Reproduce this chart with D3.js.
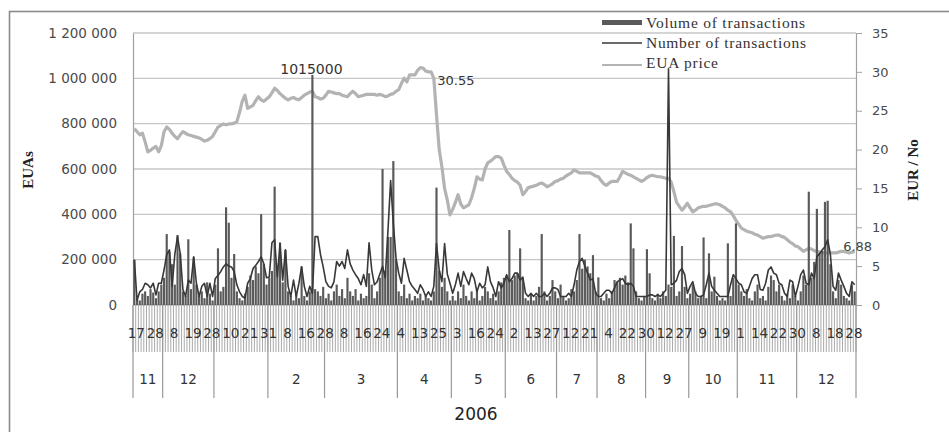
<!DOCTYPE html>
<html><head><meta charset="utf-8">
<script src="https://cdn.jsdelivr.net/npm/d3@7"></script>
<style>body{margin:0;background:#fff}svg{display:block}</style>
</head><body>
<svg id="c" width="949" height="432"></svg>
<script>
// Volume of transactions (thousand EUAs) per trading day
const volume = [
200,30,20,50,60,40,70,55,30,60,
90,120,313,235,180,90,309,228,60,40,
290,70,210,90,40,60,30,100,50,20,
90,250,60,80,431,363,120,225,60,30,
20,50,80,130,110,170,140,401,180,90,
120,150,522,160,276,100,243,60,40,20,
50,30,170,40,20,60,1015,70,60,40,
80,30,50,20,60,90,40,70,30,120,
60,40,70,20,50,30,40,140,90,30,
60,120,600,150,300,300,635,200,60,40,
90,30,50,20,40,30,50,20,40,30,
20,60,518,150,80,120,60,20,40,20,
60,30,90,40,20,60,30,70,20,40,
80,60,30,50,20,60,100,120,130,331,
110,130,140,250,120,30,20,50,20,40,
80,313,60,20,40,110,60,30,90,40,
20,30,70,60,110,313,160,200,170,140,
220,60,122,30,20,50,30,60,110,100,
120,90,130,100,360,250,60,30,20,40,
246,140,30,20,50,30,60,40,90,80,
305,40,60,260,80,30,50,90,60,30,
40,298,30,228,60,125,40,20,30,20,
272,40,120,360,90,60,40,70,30,20,
60,90,30,40,20,80,130,110,60,90,
40,20,50,30,90,40,20,60,130,90,
500,120,190,424,230,240,455,460,180,60,
30,110,90,40,30,20,90,60];
// Number of transactions per day (right axis)
const numberTx = [
5.8,0.6,1.7,2.0,2.8,2.6,2.2,2.8,1.3,2.8,
2.8,4.5,6.5,7.1,2.4,6.5,8.8,6.6,2.0,1.1,
3.2,2.8,6.2,2.8,1.1,2.4,2.8,1.1,2.8,1.1,
3.4,3.8,4.3,4.9,5.3,5.0,4.9,4.3,2.6,1.7,
1.1,0.9,2.8,3.4,4.7,5.1,5.6,6.2,5.3,3.5,
3.6,8.0,8.4,3.6,7.9,3.2,7.1,2.4,1.1,3.2,
1.1,2.8,4.9,2.4,1.1,2.4,1.5,8.8,8.8,6.5,
4.9,3.0,2.4,2.2,3.0,5.6,5.0,5.6,4.7,7.1,
5.3,4.5,3.9,3.4,2.6,3.9,2.4,8.0,4.5,2.6,
3.0,4.0,5.0,3.5,9.5,16.0,10.5,6.0,4.1,2.8,
6.0,4.5,3.0,2.4,2.0,1.5,2.6,2.0,1.1,1.7,
1.1,2.4,7.9,4.5,3.0,7.9,4.0,2.8,1.5,2.6,
4.1,2.4,4.3,3.4,2.6,4.1,3.4,1.7,2.8,2.2,
2.6,4.9,3.0,2.2,1.1,3.0,2.2,2.8,3.9,3.0,
3.4,4.1,4.1,3.2,3.6,1.5,1.1,1.5,1.1,1.5,
1.1,1.1,1.5,1.1,1.5,2.2,2.2,2.0,1.1,1.1,
1.1,1.5,1.1,2.6,4.5,5.6,6.0,5.0,4.1,3.2,
3.4,1.5,1.1,1.1,1.5,1.9,1.9,1.5,2.2,3.0,
3.2,3.4,2.8,2.6,2.8,2.4,1.1,1.1,1.1,1.1,
1.1,1.3,1.3,1.1,1.3,1.1,1.5,1.9,30.4,2.6,
2.8,3.2,4.3,4.7,3.9,1.5,2.4,3.0,1.5,1.1,
1.1,1.3,2.6,4.1,2.4,1.9,1.5,1.1,1.1,1.1,
1.1,2.6,3.9,3.4,2.8,2.6,1.7,1.5,2.4,3.4,
3.9,3.9,2.0,1.9,2.8,4.5,4.9,4.1,3.9,2.8,
2.6,1.5,1.1,3.2,3.0,1.1,2.4,3.9,4.5,2.8,
2.6,4.1,3.4,6.2,6.6,7.1,7.5,8.4,6.5,2.4,
1.9,4.1,3.2,2.4,1.5,1.1,3.0,2.6];
// EUA price (EUR)
const price = [
22.7,22.3,21.9,22.1,21.0,19.7,19.9,20.2,20.4,19.7,
20.5,22.3,22.9,22.6,22.1,21.7,21.4,21.9,22.3,22.1,
21.9,21.8,21.7,21.6,21.5,21.3,21.1,21.2,21.4,21.7,
22.3,22.9,23.1,23.3,23.2,23.3,23.3,23.4,23.6,24.8,
26.2,27.0,25.3,25.5,25.7,26.3,26.8,26.4,26.2,26.5,
26.8,27.3,27.9,27.6,27.2,26.9,26.6,26.4,26.6,26.7,
26.5,26.4,26.7,27.0,27.2,27.4,27.5,26.8,26.7,26.5,
26.6,27.0,27.5,27.4,27.3,27.2,27.2,27.0,26.9,26.8,
27.2,27.5,27.2,26.8,26.9,27.0,27.1,27.1,27.1,27.1,
27.0,27.1,27.0,26.8,26.9,27.1,27.2,27.5,27.7,28.5,
29.2,28.7,29.6,29.6,29.6,30.2,30.55,30.5,30.1,30.0,
30.0,29.2,24.5,20.0,17.8,15.0,13.5,11.6,12.3,13.2,
14.2,13.0,12.5,12.7,12.9,13.8,15.0,16.5,16.2,16.1,
17.5,18.3,18.5,18.8,19.1,19.1,18.9,18.0,17.2,16.8,
16.3,16.0,15.8,15.4,14.2,14.6,15.1,15.2,15.3,15.4,
15.6,15.7,15.5,15.2,15.4,15.6,15.9,16.0,16.2,16.3,
16.6,16.8,17.0,17.4,17.2,17.0,17.0,17.0,17.0,17.0,
16.8,16.6,16.5,16.0,15.6,15.4,15.7,15.9,15.9,15.9,
16.5,17.2,17.0,16.8,16.7,16.5,16.3,16.1,15.9,16.1,
16.4,16.6,16.7,16.6,16.5,16.5,16.4,16.3,16.3,15.8,
14.6,13.2,12.7,12.2,12.6,13.1,12.5,12.0,12.2,12.5,
12.6,12.7,12.7,12.8,12.9,13.0,13.0,12.9,12.7,12.5,
12.2,12.0,11.5,10.9,10.4,9.9,9.7,9.5,9.4,9.3,
9.1,9.0,8.8,8.6,8.7,8.8,8.8,8.9,9.0,9.0,
8.8,8.7,8.4,8.1,7.9,7.6,7.5,7.2,6.9,7.1,
7.3,7.2,7.0,6.9,6.8,6.7,6.7,6.7,6.7,6.7,
6.7,6.8,6.9,6.9,6.8,6.7,6.8,6.88];
// Category axis labels (every 7th day shown)
const tickLabels = ["17","28","8","19","28","10","21","31","8","16","28","8","16","24","4","13","25","3","16","24","2","13","27","12","21","4","22","30","12","27","9","19","1","14","22","30","8","18","28"];
const monthLabels = ["11","12","","2","3","4","5","6","7","8","9","10","11","12"];
const monthCounts = [11,19,20,21,27,20,20,19,15,18,16,18,22,22];
const yearLabel = "2006";
const leftTicks = [0,200,400,600,800,1000,1200];
const rightTicks = [0,5,10,15,20,25,30,35];
const legendLabels = ["Volume of transactions","Number of transactions","EUA price"];
const titleLeft = "EUAs", titleRight = "EUR / No";

const N = volume.length;
const L = 133, R = 856, T = 33, B = 305;
const svg = d3.select("#c");
const x = d3.scaleBand().domain(d3.range(N)).range([L, R]).padding(0);
const step = x.step();
const cx = i => x(i) + step / 2;
const yL = d3.scaleLinear().domain([0, 1200]).range([B, T]);
const yR = d3.scaleLinear().domain([0, 35]).range([B, T]);
const loc = d3.formatLocale({decimal: ".", thousands: " ", grouping: [3], currency: ["", ""]});
const fmt = loc.format(",d");

// outer frame
svg.append("rect").attr("x", 9.5).attr("y", 11.5).attr("width", 1000).attr("height", 1000)
  .attr("fill", "none").attr("stroke", "#8c8c8c").attr("stroke-width", 1.6);

// gridlines
svg.append("g").selectAll("line").data(leftTicks.filter(d => d > 0)).join("line")
  .attr("x1", L).attr("x2", R).attr("y1", d => yL(d)).attr("y2", d => yL(d))
  .attr("stroke", "#c6c6c6").attr("stroke-width", 1.4);

// left axis labels
const gl = svg.append("g").attr("transform", `translate(${L},0)`)
  .call(d3.axisLeft(yL).tickValues(leftTicks).tickSize(0).tickPadding(16).tickFormat(d => fmt(d * 1000)));
gl.select(".domain").attr("stroke", "#a0a0a0").attr("stroke-width", 1.2);
gl.selectAll("text").attr("font-family", "DejaVu Sans").attr("font-size", 13.5).attr("fill", "#4a4a4a");

// right axis
const gr = svg.append("g").attr("transform", `translate(${R},0)`)
  .call(d3.axisRight(yR).tickValues(rightTicks).tickSizeInner(6).tickSizeOuter(0).tickPadding(10));
gr.select(".domain").attr("stroke", "#a0a0a0").attr("stroke-width", 1.2);
gr.selectAll("line").attr("stroke", "#a0a0a0");
gr.selectAll("text").attr("font-family", "DejaVu Sans").attr("font-size", 13).attr("fill", "#4a4a4a");

// category ticks
svg.append("g").selectAll("line").data(d3.range(N + 1)).join("line")
  .attr("x1", i => i < N ? x(i) : R).attr("x2", i => i < N ? x(i) : R)
  .attr("y1", B).attr("y2", 352).attr("stroke", "#a9a9a9").attr("stroke-width", 1);
// month separators
const bounds = [0, ...d3.cumsum(monthCounts)];
svg.append("g").selectAll("line").data(bounds).join("line")
  .attr("x1", i => i < N ? x(i) : R).attr("x2", i => i < N ? x(i) : R)
  .attr("y1", B).attr("y2", 398).attr("stroke", "#999").attr("stroke-width", 1.2);
// x axis line
svg.append("line").attr("x1", L).attr("x2", R).attr("y1", B).attr("y2", B)
  .attr("stroke", "#9a9a9a").attr("stroke-width", 1.2);

// day labels
svg.append("g").selectAll("text").data(tickLabels).join("text")
  .attr("x", (d, j) => cx(j * 7) + 2).attr("y", 338).attr("text-anchor", "middle")
  .attr("font-family", "DejaVu Sans").attr("font-size", 13.5).attr("fill", "#333").text(d => d);
// month labels
svg.append("g").selectAll("text").data(monthLabels).join("text")
  .attr("x", (d, k) => L + (bounds[k] + monthCounts[k] / 2) * step).attr("y", 384)
  .attr("text-anchor", "middle").attr("font-family", "DejaVu Sans").attr("font-size", 13.5)
  .attr("fill", "#333").text(d => d);
svg.append("text").attr("x", 476).attr("y", 420).attr("text-anchor", "middle")
  .attr("font-family", "DejaVu Sans").attr("font-size", 17).attr("fill", "#222").text(yearLabel);

// price line (drawn beneath bars)
svg.append("path").datum(price)
  .attr("d", d3.line().x((d, i) => cx(i)).y(d => yR(d)))
  .attr("fill", "none").attr("stroke", "#b3b3b3").attr("stroke-width", 3.2).attr("stroke-linejoin", "round");

// volume bars
const bw = step * 0.8;
svg.append("g").selectAll("rect").data(volume).join("rect")
  .attr("x", (d, i) => cx(i) - bw / 2).attr("width", bw)
  .attr("y", d => yL(d)).attr("height", d => B - yL(d)).attr("fill", "#5a5a5a");

// number line
svg.append("path").datum(numberTx)
  .attr("d", d3.line().x((d, i) => cx(i)).y(d => yR(d)))
  .attr("fill", "none").attr("stroke", "#383838").attr("stroke-width", 1.6).attr("stroke-linejoin", "round");

// data labels
const iv = d3.maxIndex(volume);
svg.append("text").attr("x", cx(iv) - 1).attr("y", yL(volume[iv]) - 1).attr("text-anchor", "middle")
  .attr("font-family", "DejaVu Sans").attr("font-size", 14).attr("fill", "#333").text(fmt(volume[iv] * 1000).replace(/ /g, ""));
const ip = d3.maxIndex(price);
svg.append("text").attr("x", cx(ip) + 17).attr("y", yR(price[ip]) + 17)
  .attr("font-family", "DejaVu Sans").attr("font-size", 13).attr("fill", "#333").text(price[ip].toFixed(2));
const il = N - 1;
svg.append("text").attr("x", cx(il) + 3).attr("y", yR(price[il]) - 1).attr("text-anchor", "middle")
  .attr("font-family", "DejaVu Sans").attr("font-size", 13).attr("fill", "#444").text(price[il].toFixed(2));

// axis titles
svg.append("text").attr("transform", "translate(33,170) rotate(-90)").attr("text-anchor", "middle")
  .attr("font-family", "Liberation Serif").attr("font-weight", "bold").attr("font-size", 15).attr("fill", "#222").text(titleLeft);
svg.append("text").attr("transform", "translate(918,170) rotate(-90)").attr("text-anchor", "middle")
  .attr("font-family", "Liberation Serif").attr("font-weight", "bold").attr("font-size", 15).attr("fill", "#222").text(titleRight);

// legend
const lg = svg.append("g");
lg.append("rect").attr("x", 602).attr("y", 20).attr("width", 40).attr("height", 5).attr("fill", "#5a5a5a");
lg.append("line").attr("x1", 602).attr("x2", 642).attr("y1", 43).attr("y2", 43).attr("stroke", "#383838").attr("stroke-width", 1.5);
lg.append("line").attr("x1", 602).attr("x2", 642).attr("y1", 65).attr("y2", 65).attr("stroke", "#b3b3b3").attr("stroke-width", 1.8);
const lw = [159, 160, 72];
lg.selectAll("text").data(legendLabels).join("text")
  .attr("x", 646).attr("y", (d, k) => [28, 48, 68][k])
  .attr("font-family", "Liberation Serif").attr("font-size", 15.5).attr("fill", "#333")
  .attr("textLength", (d, k) => lw[k]).attr("lengthAdjust", "spacing").text(d => d);
</script>
</body></html>
